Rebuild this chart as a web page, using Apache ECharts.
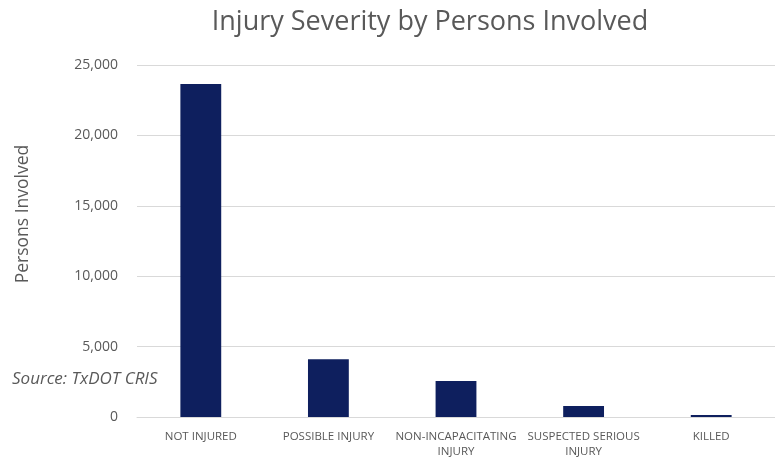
<!DOCTYPE html>
<html><head><meta charset="utf-8">
<script src="https://cdn.jsdelivr.net/npm/echarts@6/dist/echarts.min.js"></script>
<style>html,body{margin:0;padding:0;background:#fff}#c{width:775px;height:459px}</style>
</head><body><div id="c"></div>
<script>
var categories = ['NOT INJURED', 'POSSIBLE INJURY', 'NON-INCAPACITATING INJURY', 'SUSPECTED SERIOUS INJURY', 'KILLED'];
var persons = [23650, 4100, 2550, 780, 150];
var yTicks = [0, 5000, 10000, 15000, 20000, 25000];

var chart = echarts.init(document.getElementById('c'), null, {renderer: 'canvas'});
chart.setOption({
  animation: false,
  backgroundColor: '#ffffff',
  title: {
    text: 'Injury Severity by Persons Involved',
    left: 425, top: 4, textAlign: 'center',
    textStyle: {fontFamily: 'Open Sans', fontSize: 27, fontWeight: 'normal', color: '#595959'}
  },
  graphic: [
    {type: 'text', left: 12, top: 371, style: {text: 'Source: TxDOT CRIS', font: 'italic 17px "Open Sans"', fill: '#595959'}},
    {type: 'text', x: 14, y: 214, rotation: Math.PI / 2, style: {text: 'Persons Involved', font: '17.5px "Open Sans"', fill: '#595959', textAlign: 'center', textVerticalAlign: 'top'}}
  ],
  grid: {left: 137, right: 0, top: 65, bottom: 41, containLabel: false},
  xAxis: {
    type: 'category', data: categories,
    axisTick: {show: false},
    axisLine: {lineStyle: {color: '#d9d9d9'}},
    axisLabel: {
      interval: 0, margin: 12, color: '#595959', fontFamily: 'Open Sans', fontSize: 11.5, lineHeight: 15,
      formatter: function (v) { return v.length > 16 ? v.replace(/ INJURY$/, '\nINJURY') : v; }
    }
  },
  yAxis: {
    type: 'value', min: yTicks[0], max: yTicks[yTicks.length - 1], interval: 5000,
    axisLine: {show: false}, axisTick: {show: false},
    splitLine: {lineStyle: {color: '#d9d9d9'}},
    axisLabel: {
      margin: 19, color: '#595959', fontFamily: 'Open Sans', fontSize: 14,
      formatter: function (v) { return v.toLocaleString('en-US'); }
    }
  },
  series: [{
    type: 'bar', data: persons, barWidth: '32%',
    itemStyle: {color: '#0e1f5e'}
  }]
});
</script></body></html>
